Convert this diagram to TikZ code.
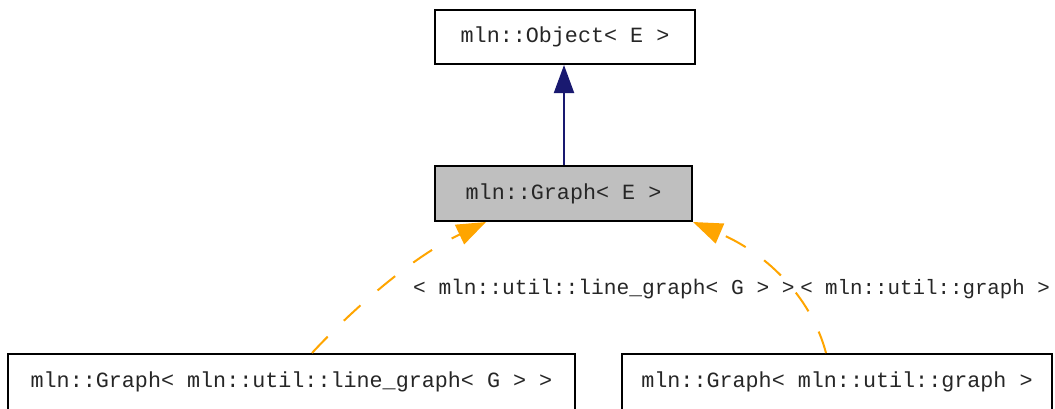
\documentclass[tikz,border=0pt]{standalone}
\usepackage{fontspec}
\setmonofont{Liberation Mono}
\usetikzlibrary{arrows.meta}
\definecolor{edgeblue}{HTML}{191970}
\definecolor{edgeorange}{HTML}{FFA500}
\definecolor{boxgray}{HTML}{BFBFBF}
\begin{document}
\begin{tikzpicture}[x=0.75pt,y=-0.75pt,
  box/.style={draw=black, line width=1.5pt, inner sep=0pt, font=\ttfamily\fontsize{16.3}{19}\selectfont, text=black!85},
  lbl/.style={inner sep=0pt, font=\ttfamily\fontsize{15.6}{19}\selectfont, text=black!85},
  inherit/.style={edgeblue, line width=1.5pt, -{Triangle[length=21pt,width=15pt]}},
  templ/.style={edgeorange, line width=1.5pt, dash pattern=on 17pt off 17pt, -{Triangle[length=22pt,width=16pt]}}]
\useasboundingbox (0,0) rectangle (1055,408);
\node[box, minimum width=195pt, minimum height=40.5pt] (obj) at (565,37) {mln::Object< E >};
\node[box, fill=boxgray, minimum width=192.75pt, minimum height=41.25pt] (g) at (563.5,193.5) {mln::Graph< E >};
\node[box, minimum width=425.25pt, minimum height=42pt] (bl) at (291.5,382) {mln::Graph< mln::util::line\_graph< G > >};
\node[box, minimum width=322.5pt, minimum height=42pt] (br) at (837,382) {mln::Graph< mln::util::graph >};
\draw[inherit] (g.north -| 564,0) -- (obj.south -| 564,0);
\draw[templ] ([xshift=228.75pt]bl.north west) .. controls (350,312) and (410,258) .. ([xshift=39pt]g.south west);
\draw[templ] ([xshift=153.75pt]br.north west) .. controls (812,300) and (770,255) .. (g.south east);
\node[lbl, anchor=east, font=\ttfamily\fontsize{15.9}{19}\selectfont] (l1) at (795,289) {< mln::util::line\_graph< G > >};
\node[lbl, anchor=west] (l2) at (800,289) {< mln::util::graph >};
\end{tikzpicture}
\end{document}
